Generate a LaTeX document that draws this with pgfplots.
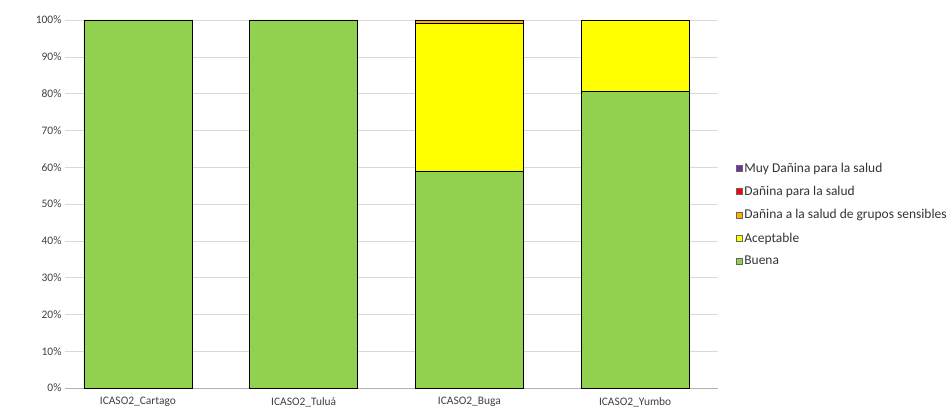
\documentclass[border=0pt]{standalone}
\usepackage{pgfplots}
\pgfplotsset{compat=1.18}
\usepackage{fontspec}
\setmainfont{Carlito}
\definecolor{gr}{HTML}{92D050}
\definecolor{ye}{HTML}{FFFF00}
\definecolor{or}{HTML}{FFB000}
\definecolor{re}{HTML}{FF0000}
\definecolor{pu}{HTML}{7030A0}
\begin{document}
\begin{tikzpicture}[x=1bp,y=1bp]
\useasboundingbox (-65,-26) rectangle (882,388);
\begin{scope}
\clip (-65,-26) rectangle (882,388);
\begin{axis}[at={(0,0)},anchor=south west, scale only axis, width=653bp, height=368bp,
 ybar stacked, bar width=108bp,
 xmin=-0.44, xmax=3.5, ymin=0, ymax=100,
 xtick=data, xticklabels={ICASO2\_Cartago,ICASO2\_Tuluá,ICASO2\_Buga,ICASO2\_Yumbo},
 ytick={0,10,...,100}, yticklabel={\pgfmathprintnumber{\tick}\%},
 /pgf/number format/assume math mode=true,
 ymajorgrids, grid style={gray!30},
 axis x line*=bottom, axis y line*=left, y axis line style={draw=none},
 x axis line style={gray!60}, xtick style={draw=none}, ytick style={draw=none},
 ticklabel style={font=\fontsize{11.5}{12}\selectfont, text=black!75},
 xticklabel style={yshift=-6bp},
 legend style={at={(1.022,0.623)},anchor=north west,draw=none,fill=none,
   font=\fontsize{13.5}{15}\selectfont, row sep=8.5bp, text=black!80},
 legend cell align=left, reverse legend,
 legend image code/.code={\draw[#1,draw=black!60] (0cm,-0.11cm) rectangle (0.22cm,0.11cm);},
 every axis plot/.append style={draw=black, line width=0.6pt}]
\addplot[fill=gr] coordinates {(0,100) (1,100) (2,59) (3,80.5)};
\addlegendentry{Buena}
\addplot[fill=ye] coordinates {(0,0) (1,0) (2,40) (3,19.5)};
\addlegendentry{Aceptable}
\addplot[fill=or] coordinates {(0,0) (1,0) (2,1) (3,0)};
\addlegendentry{Dañina a la salud de grupos sensibles}
\addplot[fill=re,draw=none] coordinates {(0,0) (1,0) (2,0) (3,0)};
\addlegendentry{Dañina para la salud}
\addplot[fill=pu,draw=none] coordinates {(0,0) (1,0) (2,0) (3,0)};
\addlegendentry{Muy Dañina para la salud}
\end{axis}
\end{scope}
\end{tikzpicture}
\end{document}
